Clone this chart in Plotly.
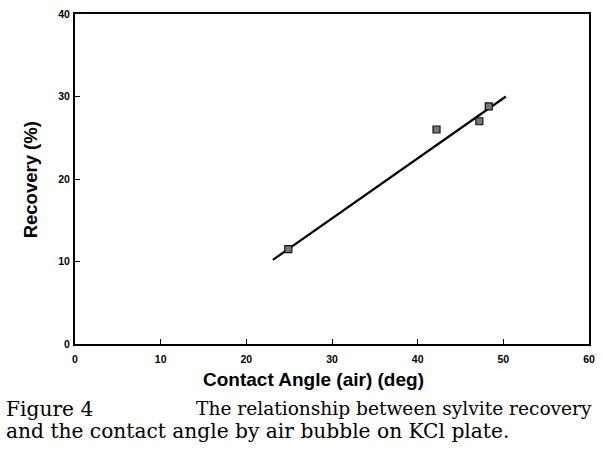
import plotly.graph_objects as go

contact_angle = [24.9, 42.2, 47.2, 48.3]
recovery = [11.5, 26.0, 27.0, 28.8]
fit_x = [23.1, 50.3]
fit_y = [10.2, 30.0]
x_ticks = [0, 10, 20, 30, 40, 50, 60]
y_ticks = [0, 10, 20, 30, 40]

fig = go.Figure()
fig.add_trace(go.Scatter(x=fit_x, y=fit_y, mode="lines",
                         line=dict(color="black", width=2.2), showlegend=False))
fig.add_trace(go.Scatter(x=contact_angle, y=recovery, mode="markers",
                         marker=dict(symbol="square", size=7, color="#777",
                                     line=dict(color="#111", width=1.2)),
                         showlegend=False))

axfont = dict(family="Liberation Sans, Arial, sans-serif", size=10.5, color="black", weight="bold")
common = dict(ticks="inside", ticklen=5, tickcolor="black", showline=True,
              linecolor="black", linewidth=2, mirror=True, showgrid=False,
              zeroline=False, tickfont=axfont)
fig.update_xaxes(range=[0, 60], tickvals=x_ticks, ticklabelstandoff=4, **common)
fig.update_yaxes(range=[0, 40], tickvals=y_ticks, ticklabelstandoff=1, **common)

title_font_x = dict(family="Liberation Sans, Arial, sans-serif", size=19, color="black", weight="bold")
title_font_y = dict(family="Liberation Sans, Arial, sans-serif", size=18.5, color="black", weight="bold")
cap_font1 = dict(family="DejaVu Serif, serif", size=18.6, color="black")
cap_font2 = dict(family="DejaVu Serif, serif", size=20.2, color="black")

L, R, T, B = 75, 10, 8, 123
W, H = 603, 467
pw, ph = W - L - R, H - T - B
def px(x):
    return (x - L) / pw
def py(y):
    return (H - B - y) / ph

fig.update_layout(
    width=W, height=H,
    margin=dict(l=L, r=R, t=T, b=B),
    paper_bgcolor="white", plot_bgcolor="white",
    annotations=[
        dict(text="Contact Angle (air) (deg)", xref="paper", yref="paper",
             x=px(315), y=py(380), xanchor="center", yanchor="middle",
             showarrow=False, font=title_font_x),
        dict(text="Recovery (%)", xref="paper", yref="paper", textangle=-90,
             x=px(31), y=py(177), xanchor="center", yanchor="middle",
             showarrow=False, font=title_font_y),
        dict(text="Figure 4", xref="paper", yref="paper", x=px(3), y=py(410),
             xanchor="left", yanchor="middle", showarrow=False, font=cap_font2),
        dict(text="The relationship between sylvite recovery", xref="paper", yref="paper",
             x=px(598), y=py(410), xanchor="right", yanchor="middle", showarrow=False, font=cap_font1),
        dict(text="and the contact angle by air bubble on KCl plate.", xref="paper", yref="paper",
             x=px(3), y=py(433), xanchor="left", yanchor="middle", showarrow=False, font=cap_font2),
    ],
)
fig.write_html("out.html")
